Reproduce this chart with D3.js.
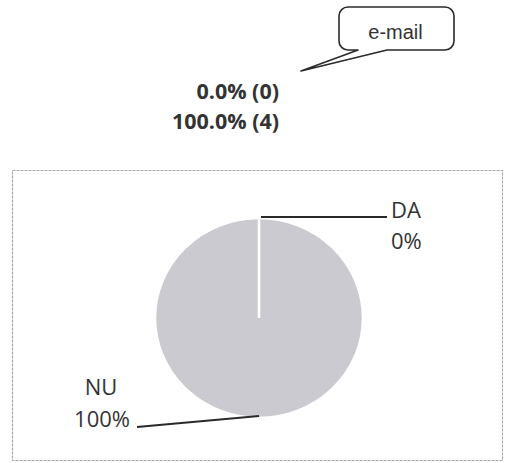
<!DOCTYPE html>
<html>
<head>
<meta charset="utf-8">
<script src="https://cdn.jsdelivr.net/npm/d3@7"></script>
<style>
  body { margin: 0; background: #fff; }
  svg { display: block; }
</style>
</head>
<body>
<svg id="chart" width="505" height="463"></svg>
<script>
const LABELS = ["DA", "NU"];
const COUNTS = [0, 4];
const PERCENTS = ["0%", "100%"];
const SUMMARY = ["0.0% (0)", "100.0% (4)"];
const CALLOUT = "e-mail";

const svg = d3.select("#chart");
const INK = "#2a2a2a";
const FONT = "'Open Sans', 'Noto Sans', sans-serif";

// summary lines above the chart
svg.append("g")
  .selectAll("text")
  .data(SUMMARY)
  .join("text")
  .attr("x", 279)
  .attr("y", (d, i) => 99 + i * 30)
  .attr("text-anchor", "end")
  .style("font-family", FONT)
  .style("font-weight", "bold")
  .style("font-size", "21.5px")
  .style("fill", "#333")
  .text((d) => d);

// speech bubble
const bubble = svg.append("g");
const bx = 339, by = 7, bw = 115, bh = 43, br = 9;
const bubblePath = d3.path();
bubblePath.moveTo(bx + br, by);
bubblePath.lineTo(bx + bw - br, by);
bubblePath.arcTo(bx + bw, by, bx + bw, by + br, br);
bubblePath.lineTo(bx + bw, by + bh - br);
bubblePath.arcTo(bx + bw, by + bh, bx + bw - br, by + bh, br);
bubblePath.lineTo(387, by + bh);
bubblePath.lineTo(301, 71);
bubblePath.lineTo(358, by + bh);
bubblePath.lineTo(bx + br, by + bh);
bubblePath.arcTo(bx, by + bh, bx, by + bh - br, br);
bubblePath.lineTo(bx, by + br);
bubblePath.arcTo(bx, by, bx + br, by, br);
bubblePath.closePath();
bubble.append("path")
  .attr("d", bubblePath.toString())
  .attr("fill", "#fff")
  .attr("stroke", INK)
  .attr("stroke-width", 1.6)
  .attr("stroke-linejoin", "round");
bubble.append("text")
  .attr("x", bx + bw / 2 - 1)
  .attr("y", 39)
  .attr("text-anchor", "middle")
  .style("font-family", "'Liberation Sans', Arial, sans-serif")
  .style("font-size", "20px")
  .style("fill", "#333")
  .text(CALLOUT);

// chart frame
svg.append("rect")
  .attr("x", 12.5)
  .attr("y", 170.5)
  .attr("width", 490)
  .attr("height", 290)
  .attr("fill", "none")
  .attr("stroke", "#a8a8a8")
  .attr("stroke-width", 1.2)
  .attr("stroke-dasharray", "3,1");

// pie
const cx = 259, cy = 318, R = 100;
const data = LABELS.map((label, i) => ({ label, count: COUNTS[i], pct: PERCENTS[i] }));
const pie = d3.pie().sort(null).value((d) => d.count);
const arcs = pie(data);
const arc = d3.arc().innerRadius(0).outerRadius(R);

const g = svg.append("g").attr("transform", `translate(${cx},${cy})`);
// draw the empty slice last so its white edge shows on top
g.selectAll("path")
  .data(arcs.slice().reverse())
  .join("path")
  .attr("d", arc)
  .attr("fill", "#cacad0")
  .attr("stroke", "#fff")
  .attr("stroke-width", 2.5)
  .attr("transform", "scale(1.04,1)");

// leader lines and labels
const edge = (a) => {
  const ang = (a.startAngle + a.endAngle) / 2;
  return [Math.sin(ang) * R * 1.04, -Math.cos(ang) * R];
};

const da = arcs[0], nu = arcs[1];
const daP = edge(da), nuP = edge(nu);

g.append("line")
  .attr("x1", daP[0] + 2).attr("y1", daP[1] - 1)
  .attr("x2", daP[0] + 128).attr("y2", daP[1] - 1)
  .attr("stroke", INK).attr("stroke-width", 2);
g.append("line")
  .attr("x1", nuP[0]).attr("y1", nuP[1] - 2)
  .attr("x2", nuP[0] - 122).attr("y2", nuP[1] + 9)
  .attr("stroke", INK).attr("stroke-width", 2);

const labelStyle = (sel) => sel
  .style("font-family", FONT)
  .style("font-size", "22px")
  .style("fill", "#333");

g.append("text")
  .attr("x", daP[0] + 132).attr("y", daP[1])
  .call(labelStyle).text(da.data.label);
g.append("text")
  .attr("x", daP[0] + 132).attr("y", daP[1] + 31)
  .call(labelStyle).text(da.data.pct);

g.append("text")
  .attr("x", nuP[0] - 158).attr("y", nuP[1] - 23)
  .attr("text-anchor", "middle")
  .call(labelStyle).text(nu.data.label);
g.append("text")
  .attr("x", nuP[0] - 129).attr("y", nuP[1] + 9)
  .attr("text-anchor", "end")
  .call(labelStyle).text(nu.data.pct);
</script>
</body>
</html>
